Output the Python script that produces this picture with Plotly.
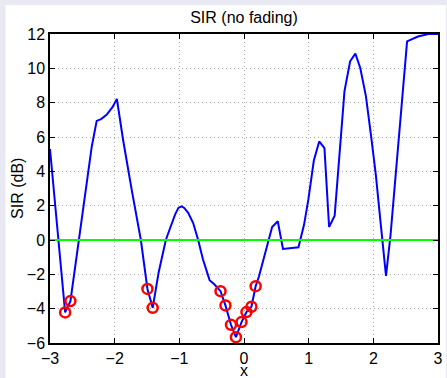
import plotly.graph_objects as go

# SIR curve (x, dB)
x_vals = [-3.0, -2.766, -2.684, -2.354, -2.278, -2.211, -2.125, -2.034, -1.966,
          -1.87, -1.737, -1.595, -1.493, -1.412, -1.321, -1.27, -1.209, -1.142,
          -1.066, -1.015, -0.965, -0.924, -0.863, -0.786, -0.71, -0.634, -0.532,
          -0.456, -0.363, -0.287, -0.201, -0.125, -0.038, 0.038, 0.115, 0.18,
          0.232, 0.435, 0.522, 0.603, 0.842, 0.929, 0.995, 1.08, 1.163, 1.244,
          1.316, 1.402, 1.554, 1.641, 1.722, 1.798, 1.885, 1.962, 2.038, 2.115,
          2.196, 2.267, 2.522, 2.69, 2.85, 3.0]
sir_vals = [5.3, -4.22, -3.56, 5.45, 6.94, 7.04, 7.29, 7.74, 8.22,
            5.84, 2.93, 0.0, -2.85, -3.95, -1.91, -0.95, 0.0, 0.70,
            1.48, 1.87, 1.96, 1.87, 1.58, 0.99, 0.02, -1.14, -2.34,
            -2.59, -2.98, -3.81, -4.94, -5.66, -4.78, -4.20, -3.89, -2.69,
            -2.11, 0.76, 1.09, -0.52, -0.42, 0.90, 2.35, 4.63, 5.74, 5.35,
            0.76, 1.42, 8.67, 10.41, 10.86, 10.02, 8.38, 6.15, 3.82, 0.91,
            -2.09, 0.33, 11.57, 11.85, 12.0, 12.0]

# Marked (outage) points
mark_x = [-2.766, -2.684, -1.493, -1.412, -0.363, -0.287, -0.201, -0.125,
          -0.038, 0.038, 0.115, 0.18]
mark_y = [-4.22, -3.56, -2.85, -3.95, -2.98, -3.81, -4.94, -5.66,
          -4.78, -4.20, -3.89, -2.69]

thr_x = [-3, 3]
thr_y = [0, 0]

x_ticks = [-3, -2, -1, 0, 1, 2, 3]
y_ticks = [-6, -4, -2, 0, 2, 4, 6, 8, 10, 12]

FONT = "Liberation Sans, Arial, sans-serif"
FS = 16

fig = go.Figure()
fig.add_trace(go.Scatter(x=x_vals, y=sir_vals, mode="lines",
                         line=dict(color="#0000FF", width=2), showlegend=False))
fig.add_trace(go.Scatter(x=thr_x, y=thr_y, mode="lines",
                         line=dict(color="#00FF00", width=2), showlegend=False))
fig.add_trace(go.Scatter(x=mark_x, y=mark_y, mode="markers",
                         marker=dict(symbol="circle-open", size=10, color="#FF0000",
                                     line=dict(width=2.5, color="#FF0000")),
                         showlegend=False))

axis_common = dict(
    showline=True, linecolor="black", linewidth=1.5, mirror="ticks",
    ticks="inside", ticklen=5, tickcolor="black", tickwidth=1,
    showgrid=True, gridcolor="#a8a8a8", griddash="1px,3px", gridwidth=1,
    zeroline=False, tickfont=dict(family=FONT, size=FS, color="black"),
)

fig.update_xaxes(range=[-3, 3], tickvals=x_ticks, **axis_common)
fig.update_yaxes(range=[-6, 12], tickvals=y_ticks, **axis_common)

fig.update_layout(
    width=447, height=378,
    margin=dict(l=50, r=4, t=34, b=35),
    paper_bgcolor="#E9E9F4", plot_bgcolor="white",
    title=dict(text="SIR (no fading)", x=0.5, xref="paper", xanchor="center",
               y=1 - 17 / 378, yref="container", yanchor="middle",
               font=dict(family=FONT, size=FS, color="black")),
    shapes=[dict(type="rect", xref="paper", yref="paper", layer="below",
                 x0=(5 - 50) / 393, x1=(447 - 50) / 393 + 0.01,
                 y0=(343 - 378) / 309 - 0.01, y1=(343 - 5) / 309,
                 fillcolor="white", line=dict(width=0))],
    annotations=[
        dict(text="x", xref="paper", yref="paper", x=0.5, y=(343 - 370) / 309,
             xanchor="center", yanchor="middle", showarrow=False,
             font=dict(family=FONT, size=FS, color="black")),
        dict(text="SIR (dB)", xref="paper", yref="paper", x=(17 - 50) / 393, y=0.5,
             xanchor="center", yanchor="middle", showarrow=False, textangle=-90,
             font=dict(family=FONT, size=FS, color="black")),
    ],
)

fig.write_html("out.html")
